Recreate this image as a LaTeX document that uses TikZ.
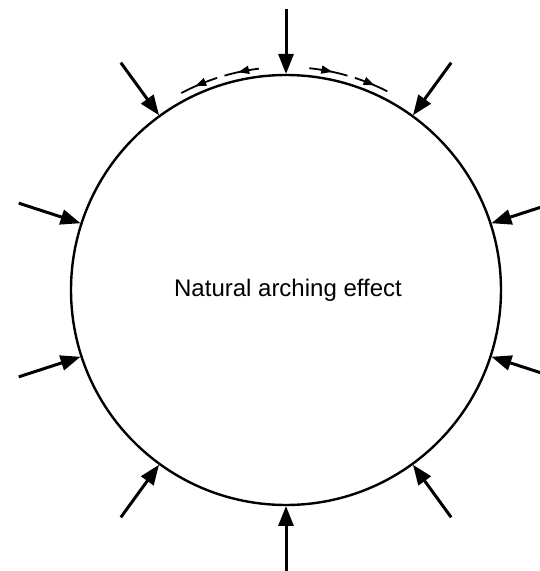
\documentclass[tikz,border=0pt]{standalone}
\usepackage{fontspec}
\setsansfont{Liberation Sans}
\usetikzlibrary{arrows.meta,decorations.markings}
\tikzset{>={Triangle[length=20pt,width=15pt]},
  ring/.style={line width=2.4pt},
  load/.style={line width=3pt,->},
  slip/.style={line width=1.8pt,postaction={decorate},
    decoration={markings,mark=at position .6 with {\arrow{Triangle[length=11pt,width=8pt]}}}},
  every node/.style={font=\sffamily\fontsize{24}{28}\selectfont}}

\begin{document}
\begin{tikzpicture}[x=1pt,y=1pt]
\useasboundingbox (0,0) rectangle (540,571);
\clip (0,0) rectangle (540,571);
\coordinate (c) at (286,281);
\draw[ring] (c) circle[radius=215];
\node (lbl) at (288,281) {Natural arching effect};
\begin{scope}[shift={(c)}]
% loads on the ring
\foreach \a in {90,54,...,-234}
  \draw[load] (\a:281) coordinate (tail) -- (\a:216) coordinate (tip);
% slip along the crown
\draw[slip] (97:223) arc[start angle=97,end angle=106,radius=223];
\draw[slip] (108:223) arc[start angle=108,end angle=118,radius=223];
\draw[slip] (84:223) arc[start angle=84,end angle=74,radius=223];
\draw[slip] (72:223) arc[start angle=72,end angle=63,radius=223];
\end{scope}
\end{tikzpicture}
\end{document}
